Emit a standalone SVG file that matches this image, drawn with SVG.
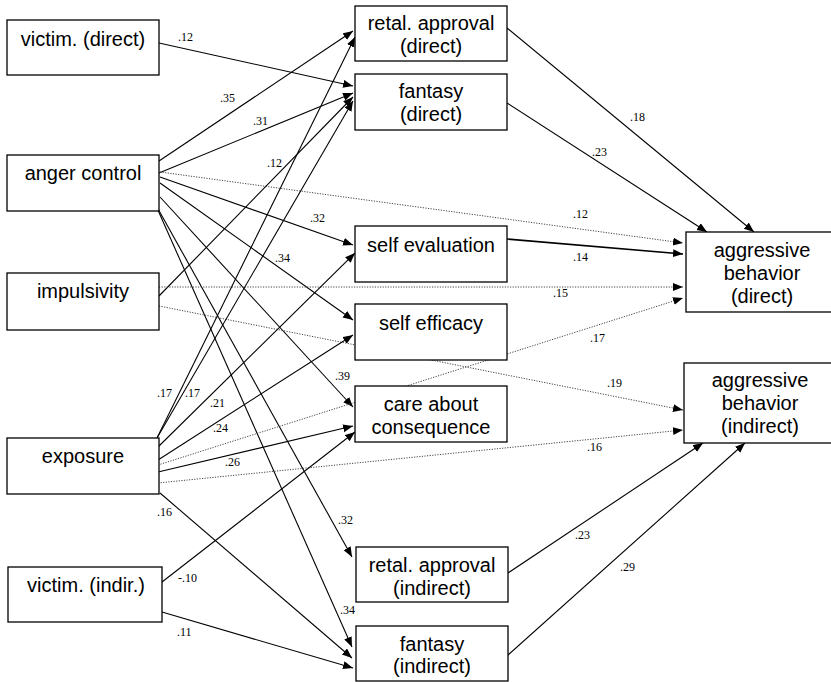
<svg xmlns="http://www.w3.org/2000/svg" width="831" height="682" viewBox="0 0 831 682">
<defs>
<style>
.box{fill:#fff;stroke:#000;stroke-width:1.3}
.nt{font-family:"Liberation Sans",Arial,sans-serif;font-size:20px;fill:#000;text-anchor:middle}
.lb{font-family:"Liberation Serif","Times New Roman",serif;font-size:12px;fill:#000}
.c{fill:none;stroke:#000;stroke-width:1.1;marker-end:url(#ah)}
.d{fill:none;stroke:#444;stroke-width:1;stroke-dasharray:1.2 1.4;marker-end:url(#ah)}
</style>
<marker id="ah" markerUnits="userSpaceOnUse" markerWidth="11" markerHeight="9" refX="10" refY="4" orient="auto">
<path d="M0,0 L10,4 L0,8 z" fill="#000"/>
</marker>
</defs>
<rect width="831" height="682" fill="#fff"/>

<g id="connectors">
<!-- victim direct -->
<path class="c" d="M159,43 L353,86"/>
<!-- anger control -->
<path class="c" d="M159,161 L353,31"/>
<path class="c" d="M159,173 L353,93"/>
<path class="d" d="M160,172 L683,243"/>
<path class="c" d="M160,177 L353,245"/>
<path class="c" d="M160,183 L353,320"/>
<path class="c" d="M160,197 L353,407"/>
<path class="c" d="M157,207 L352,557"/>
<path class="c" d="M157,208 L352,647"/>
<!-- impulsivity -->
<path class="c" d="M159,296 L353,97"/>
<path class="d" d="M159,287 L683,287"/>
<path class="d" d="M159,306 L683,410"/>
<!-- exposure -->
<path class="c" d="M157,438 L355,37"/>
<path class="c" d="M157,438 L353,101"/>
<path class="c" d="M158,447 L355,253"/>
<path class="c" d="M158,460 L353,335"/>
<path class="d" d="M158,465 L683,298"/>
<path class="c" d="M158,472 L353,426"/>
<path class="d" d="M158,483 L683,430"/>
<path class="c" d="M160,493 L352,658"/>
<!-- victim indirect -->
<path class="c" d="M162,582 L355,432"/>
<path class="c" d="M162,612 L353,668"/>
<!-- mediators to outcomes -->
<path class="c" d="M507,28 L754,232"/>
<path class="c" d="M507,103 L707,232"/>
<path class="c" d="M507,239 L683,254" style="stroke-width:1.6"/>
<path class="c" d="M508,573 L703,443"/>
<path class="c" d="M508,655 L745,443"/>
</g>

<g id="labels">
<text class="lb" x="178" y="41">.12</text>
<text class="lb" x="220" y="102">.35</text>
<text class="lb" x="253" y="125">.31</text>
<text class="lb" x="267" y="167">.12</text>
<text class="lb" x="573" y="218">.12</text>
<text class="lb" x="630" y="121">.18</text>
<text class="lb" x="592" y="156">.23</text>
<text class="lb" x="310" y="222">.32</text>
<text class="lb" x="573" y="261">.14</text>
<text class="lb" x="275" y="262">.34</text>
<text class="lb" x="553" y="297">.15</text>
<text class="lb" x="590" y="342">.17</text>
<text class="lb" x="335" y="380">.39</text>
<text class="lb" x="607" y="387">.19</text>
<text class="lb" x="157" y="397">.17</text>
<text class="lb" x="185" y="397">.17</text>
<text class="lb" x="210" y="407">.21</text>
<text class="lb" x="213" y="432">.24</text>
<text class="lb" x="225" y="466">.26</text>
<text class="lb" x="587" y="451">.16</text>
<text class="lb" x="157" y="516">.16</text>
<text class="lb" x="338" y="524">.32</text>
<text class="lb" x="575" y="539">.23</text>
<text class="lb" x="620" y="571">.29</text>
<text class="lb" x="178" y="582">-.10</text>
<text class="lb" x="340" y="614">.34</text>
<text class="lb" x="177" y="636">.11</text>
</g>

<g id="victim-direct"><rect class="box" x="7" y="20" width="152" height="55"/><text class="nt" x="83" y="46">victim. (direct)</text></g>
<g id="anger-control"><rect class="box" x="7" y="155" width="152" height="56"/><text class="nt" x="83" y="180">anger control</text></g>
<g id="impulsivity"><rect class="box" x="7" y="273" width="152" height="57"/><text class="nt" x="83" y="298">impulsivity</text></g>
<g id="exposure"><rect class="box" x="7" y="438" width="152" height="56"/><text class="nt" x="83" y="463">exposure</text></g>
<g id="victim-indirect"><rect class="box" x="8" y="567" width="154" height="55"/><text class="nt" x="86" y="592">victim. (indir.)</text></g>

<g id="retal-approval-direct"><rect class="box" x="355" y="6" width="152" height="55"/><text class="nt" x="431" y="30">retal. approval</text><text class="nt" x="431" y="53">(direct)</text></g>
<g id="fantasy-direct"><rect class="box" x="355" y="74" width="152" height="56"/><text class="nt" x="431" y="98">fantasy</text><text class="nt" x="431" y="121">(direct)</text></g>
<g id="self-evaluation"><rect class="box" x="355" y="226" width="152" height="56"/><text class="nt" x="431" y="252">self evaluation</text></g>
<g id="self-efficacy"><rect class="box" x="355" y="304" width="152" height="56"/><text class="nt" x="431" y="330">self efficacy</text></g>
<g id="care-about-consequence"><rect class="box" x="355" y="386" width="152" height="56"/><text class="nt" x="431" y="411">care about</text><text class="nt" x="431" y="434">consequence</text></g>
<g id="retal-approval-indirect"><rect class="box" x="356" y="547" width="152" height="55"/><text class="nt" x="432" y="572">retal. approval</text><text class="nt" x="432" y="595">(indirect)</text></g>
<g id="fantasy-indirect"><rect class="box" x="356" y="626" width="152" height="55"/><text class="nt" x="432" y="651">fantasy</text><text class="nt" x="432" y="673">(indirect)</text></g>

<g id="aggressive-direct"><rect class="box" x="686" y="232" width="152" height="80"/><text class="nt" x="762" y="257">aggressive</text><text class="nt" x="762" y="280">behavior</text><text class="nt" x="762" y="303">(direct)</text></g>
<g id="aggressive-indirect"><rect class="box" x="684" y="363" width="152" height="80"/><text class="nt" x="760" y="387">aggressive</text><text class="nt" x="760" y="410">behavior</text><text class="nt" x="760" y="433">(indirect)</text></g>
</svg>
